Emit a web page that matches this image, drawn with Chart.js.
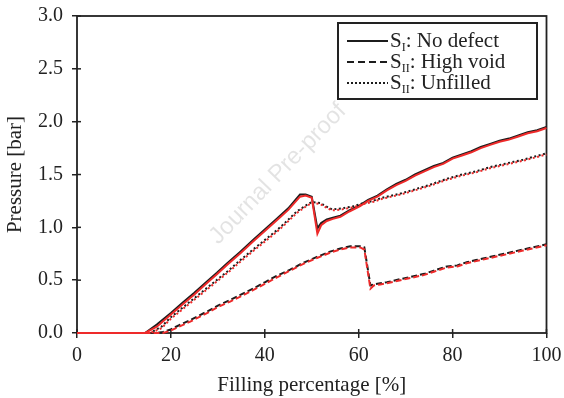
<!DOCTYPE html>
<html>
<head>
<meta charset="utf-8">
<script src="https://cdn.jsdelivr.net/npm/chart.js@4/dist/chart.umd.min.js"></script>
<style>
  html, body { margin: 0; padding: 0; background: #fff; }
  #wrap { width: 564px; height: 398px; }
</style>
</head>
<body>
<div id="wrap"><canvas id="c" width="564" height="398"></canvas></div>
<script>
// ---- data ----
const xTicks = [0, 20, 40, 60, 80, 100];
const yTicks = [0.0, 0.5, 1.0, 1.5, 2.0, 2.5, 3.0];

const solidX = [0, 14.5, 17, 20, 22.6, 25, 27.5, 29.8, 32, 34.8, 37.5, 40, 42.5, 45, 47.5, 48.7, 50, 51.2, 52, 53.2, 54.5, 56.1, 58, 60.3, 62, 64, 66, 68, 70, 72, 74, 76, 78, 80, 82, 84, 86, 88, 90, 92, 94, 96, 98, 100];
const solidBlack = [0, 0, 0.08, 0.19, 0.29, 0.38, 0.48, 0.57, 0.66, 0.77, 0.88, 0.98, 1.08, 1.18, 1.31, 1.31, 1.29, 0.99, 1.04, 1.075, 1.09, 1.11, 1.16, 1.21, 1.26, 1.30, 1.36, 1.41, 1.45, 1.50, 1.54, 1.58, 1.61, 1.66, 1.69, 1.72, 1.76, 1.79, 1.82, 1.84, 1.87, 1.90, 1.92, 1.95];
const solidRed   = [0, 0, 0.06, 0.175, 0.275, 0.365, 0.465, 0.555, 0.645, 0.755, 0.865, 0.965, 1.065, 1.165, 1.29, 1.30, 1.28, 0.94, 1.02, 1.06, 1.08, 1.10, 1.15, 1.20, 1.25, 1.29, 1.35, 1.40, 1.44, 1.49, 1.53, 1.57, 1.60, 1.65, 1.68, 1.71, 1.75, 1.78, 1.81, 1.83, 1.86, 1.89, 1.91, 1.94];

const dotX = [0, 15.6, 18, 20, 22.5, 25, 27.5, 30, 32.5, 34.8, 37.5, 40, 42.5, 44, 46.8, 48.5, 50, 51.8, 53, 54.3, 56.5, 58.9, 61, 63, 65, 68.9, 72, 75, 78.8, 82, 85, 88, 90, 93, 95, 97.5, 100];
const dotBlack = [0, 0, 0.06, 0.15, 0.24, 0.33, 0.42, 0.51, 0.60, 0.69, 0.79, 0.88, 0.97, 1.03, 1.15, 1.20, 1.24, 1.23, 1.20, 1.17, 1.18, 1.20, 1.23, 1.25, 1.28, 1.32, 1.36, 1.40, 1.46, 1.50, 1.53, 1.57, 1.59, 1.62, 1.64, 1.67, 1.70];
const dotRed   = [0, 0, 0.045, 0.135, 0.225, 0.315, 0.405, 0.495, 0.585, 0.675, 0.775, 0.865, 0.955, 1.015, 1.135, 1.19, 1.23, 1.22, 1.19, 1.16, 1.17, 1.19, 1.22, 1.24, 1.27, 1.31, 1.35, 1.39, 1.45, 1.49, 1.52, 1.56, 1.58, 1.61, 1.63, 1.66, 1.69];

const dashX = [0, 17, 18.3, 19.8, 22, 24, 26.2, 28, 30, 32.5, 34.8, 37.5, 40, 42.5, 45.4, 48, 51.1, 53.9, 56.1, 58.2, 60.3, 61.2, 62.5, 63.2, 64.6, 66, 68.9, 71, 74, 76, 78.8, 81, 83, 85, 87, 90, 92, 95, 97, 100];
const dashBlack = [0, 0, 0.01, 0.03, 0.08, 0.12, 0.17, 0.21, 0.26, 0.31, 0.36, 0.42, 0.48, 0.54, 0.60, 0.66, 0.72, 0.77, 0.80, 0.82, 0.82, 0.81, 0.45, 0.46, 0.47, 0.48, 0.51, 0.53, 0.56, 0.59, 0.63, 0.64, 0.67, 0.69, 0.71, 0.74, 0.76, 0.79, 0.81, 0.84];
const dashRed   = [0, 0, 0.0, 0.02, 0.065, 0.105, 0.155, 0.195, 0.245, 0.295, 0.345, 0.405, 0.465, 0.525, 0.59, 0.65, 0.71, 0.76, 0.79, 0.81, 0.81, 0.79, 0.42, 0.45, 0.46, 0.47, 0.50, 0.52, 0.55, 0.58, 0.62, 0.63, 0.66, 0.68, 0.70, 0.73, 0.75, 0.78, 0.80, 0.83];

const legendItems = [
  { sub: 'I',  text: ': No defect', dash: [] },
  { sub: 'II', text: ': High void', dash: [7, 4] },
  { sub: 'II', text: ': Unfilled',  dash: [2, 2] }
];
const watermark = 'Journal Pre-proof';

// ---- build ----
const pts = (xs, ys) => xs.map((x, i) => ({ x: x, y: ys[i] }));
const BLACK = '#1c1c1c';
const RED = '#ee2a2a';
const SERIF = '"Liberation Serif", "Times New Roman", serif';

function ds(xs, ys, color, dash, offset) {
  return {
    data: pts(xs, ys),
    borderColor: color,
    borderWidth: 2,
    borderDash: dash,
    borderDashOffset: offset || 0,
    pointRadius: 0,
    tension: 0,
    fill: false,
    clip: false
  };
}

const framePlugin = {
  id: 'frame',
  beforeDatasetsDraw(chart) {
    const { ctx, chartArea: a } = chart;
    ctx.save();
    ctx.translate(278, 174);
    ctx.rotate(-46 * Math.PI / 180);
    ctx.font = '24px "Liberation Sans", Arial, sans-serif';
    ctx.fillStyle = 'rgba(0,0,0,0.11)';
    ctx.textAlign = 'center';
    ctx.textBaseline = 'middle';
    ctx.fillText(watermark, 0, 0);
    ctx.restore();
    ctx.save();
    ctx.strokeStyle = '#222';
    ctx.lineWidth = 1.8;
    ctx.strokeRect(a.left, a.top, a.right - a.left, a.bottom - a.top);
    ctx.lineWidth = 1.5;
    const xs = chart.scales.x, ys = chart.scales.y;
    xTicks.forEach(v => {
      const px = xs.getPixelForValue(v);
      ctx.beginPath(); ctx.moveTo(px, a.bottom); ctx.lineTo(px, a.bottom - 4); ctx.stroke();
    });
    yTicks.forEach(v => {
      const py = ys.getPixelForValue(v);
      ctx.beginPath(); ctx.moveTo(a.left, py); ctx.lineTo(a.left + 4, py); ctx.stroke();
    });
    ctx.restore();
  },
  afterDatasetsDraw(chart) {
    const { ctx } = chart;
    ctx.save();
    ctx.fillStyle = '#fff';
    ctx.fillRect(338, 23, 199, 76);
    ctx.strokeStyle = '#222';
    ctx.lineWidth = 2;
    ctx.strokeRect(338, 23, 199, 76);
    const rows = [41, 62, 83];
    legendItems.forEach((it, i) => {
      const y = rows[i];
      ctx.strokeStyle = BLACK;
      ctx.lineWidth = 2;
      ctx.setLineDash(it.dash);
      ctx.beginPath(); ctx.moveTo(347, y); ctx.lineTo(388, y); ctx.stroke();
      ctx.setLineDash([]);
      ctx.fillStyle = '#222';
      ctx.textAlign = 'left';
      ctx.textBaseline = 'alphabetic';
      const base = y + 6;
      ctx.font = '21px ' + SERIF;
      let x = 390;
      ctx.fillText('S', x, base);
      x += ctx.measureText('S').width;
      ctx.font = '12px ' + SERIF;
      ctx.fillText(it.sub, x, base + 4);
      x += ctx.measureText(it.sub).width;
      ctx.font = '21px ' + SERIF;
      ctx.fillText(it.text, x, base);
    });
    ctx.restore();
  }
};

new Chart(document.getElementById('c'), {
  type: 'line',
  data: {
    datasets: [
      ds(solidX, solidRed, RED, []),
      ds(dashX, dashRed, RED, [6, 3], 4.5),
      ds(dotX, dotRed, RED, [2, 2.5], 2),
      ds(solidX, solidBlack, BLACK, []),
      ds(dashX, dashBlack, BLACK, [6, 3]),
      ds(dotX, dotBlack, BLACK, [2, 2.5])
    ]
  },
  options: {
    responsive: false,
    animation: false,
    devicePixelRatio: 1,
    layout: { padding: { left: 0, right: 17.5, top: 16, bottom: 0 } },
    plugins: { legend: { display: false }, tooltip: { enabled: false } },
    scales: {
      x: {
        type: 'linear',
        min: 0, max: 100,
        afterFit(s) { s.height = 65; s.paddingLeft = 0; s.paddingRight = 0; },
        afterBuildTicks(s) { s.ticks = xTicks.map(v => ({ value: v })); },
        border: { display: false },
        grid: { drawOnChartArea: false, drawTicks: true, tickLength: 5, color: '#222', lineWidth: 1.5 },
        ticks: { color: '#222', font: { family: SERIF, size: 20 }, padding: 6, maxRotation: 0,
                 callback: v => String(v) },
        title: { display: true, text: 'Filling percentage [%]', color: '#222',
                 font: { family: SERIF, size: 21 }, padding: { top: 0, bottom: 0 } }
      },
      y: {
        type: 'linear',
        min: 0, max: 3,
        afterFit(s) { s.width = 77; s.paddingTop = 0; s.paddingBottom = 0; },
        afterBuildTicks(s) { s.ticks = yTicks.map(v => ({ value: v })); },
        border: { display: false },
        grid: { drawOnChartArea: false, drawTicks: true, tickLength: 5, color: '#222', lineWidth: 1.5 },
        ticks: { color: '#222', font: { family: SERIF, size: 20 }, padding: 9,
                 callback: v => Number(v).toFixed(1) },
        title: { display: true, text: 'Pressure [bar]', color: '#222',
                 font: { family: SERIF, size: 21 }, padding: { top: 3, bottom: 0 } }
      }
    }
  },
  plugins: [framePlugin]
});
</script>
</body>
</html>
